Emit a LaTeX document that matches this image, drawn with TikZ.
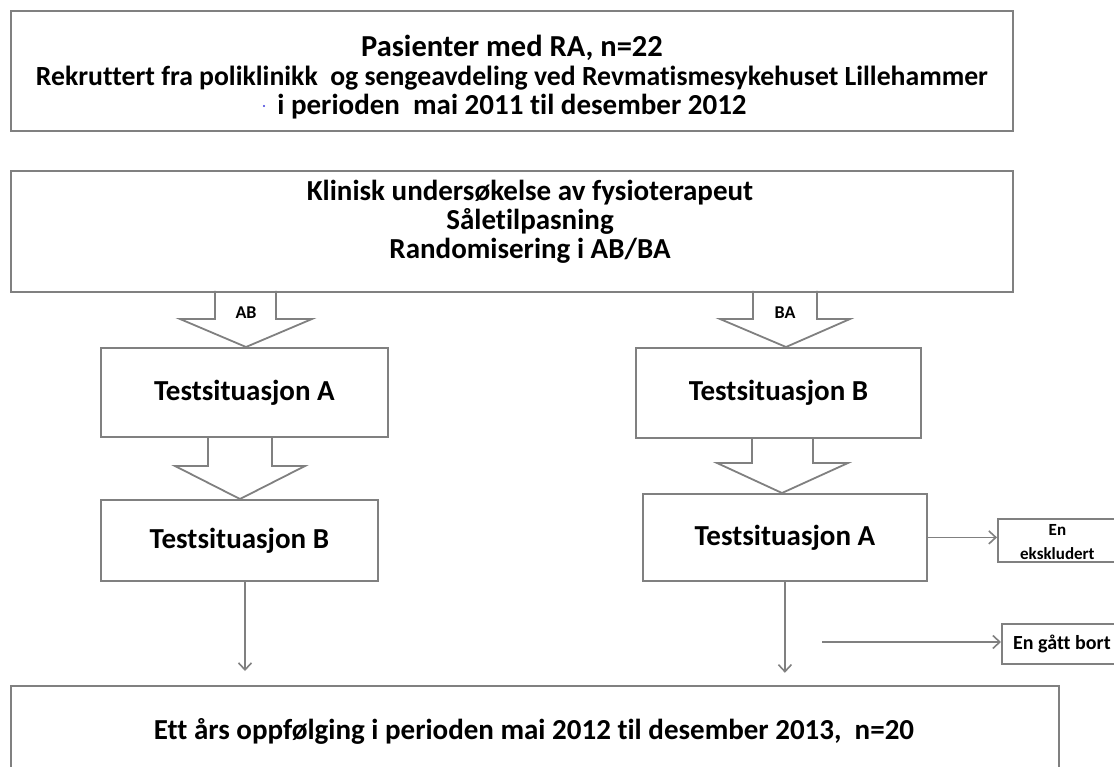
\documentclass[tikz,border=0pt]{standalone}
\usepackage{fontspec}
\setmainfont{Carlito}[Ligatures=NoCommon]
\usetikzlibrary{arrows.meta,calc}
\definecolor{linegray}{RGB}{128,128,128}
\definecolor{dotblue}{RGB}{60,60,220}
\begin{document}
\begin{tikzpicture}[x=1pt,y=-1pt,
  box/.style={draw=linegray, line width=1.8pt, inner sep=0pt, anchor=north west, align=center},
  bigtxt/.style={font=\bfseries\fontsize{29}{29}\selectfont, align=center, inner sep=0pt},
  smalltxt/.style={font=\bfseries\fontsize{17}{24}\selectfont, align=center, inner sep=0pt},
  labtxt/.style={font=\bfseries\fontsize{18}{20}\selectfont, inner sep=0pt},
  blockarrow/.style={draw=linegray, line width=1.8pt, line join=miter},
  thinarrow/.style={draw=linegray, line width=1.8pt, -{Straight Barb[length=7pt,width=13pt,line width=1.6pt]}}
]
\useasboundingbox (0,0) rectangle (1114,767);

% top box
\node[box, minimum width=1002pt, minimum height=120pt] (top) at (10,10) {};
\node[bigtxt] (toptxt) at (512,77) {{\fontsize{30.5}{29}\selectfont Pasienter med RA, n=22}\\{\fontsize{27.7}{29}\selectfont Rekruttert fra poliklinikk\ \ og sengeavdeling ved Revmatismesykehuset Lillehammer}\\i perioden\ \ mai 2011 til desember 2012};
\fill[dotblue] (264,106) circle (1.2pt);

% second box
\node[box, minimum width=1002pt, minimum height=121pt] (klin) at (10,170) {};
\node[bigtxt] (klintxt) at (530,222) {Klinisk undersøkelse av fysioterapeut\\Såletilpasning\\Randomisering i AB/BA};

% test boxes
\node[box, minimum width=287pt, minimum height=89pt] (tA) at (100,347) {};
\node[bigtxt] at (tA.center) {Testsituasjon A};
\node[box, minimum width=285pt, minimum height=90pt] (tB) at (635,347) {};
\node[bigtxt] at (tB.center) {Testsituasjon B};
\node[box, minimum width=277pt, minimum height=81pt] (lB) at (100,499) {};
\node[bigtxt] at (lB.center) {Testsituasjon B};
\node[box, minimum width=284pt, minimum height=87pt] (rA) at (642,493) {};
\node[bigtxt] at (rA.center) {Testsituasjon A};

% side boxes
\node[box, minimum width=123pt, minimum height=43pt] (eks) at (997,518) {};
\node[smalltxt] at ($(eks.center)+(-2,2)$) {En\\ekskludert};
\node[box, minimum width=120pt, minimum height=40pt] (gatt) at (1001,623) {};
\node[smalltxt, font=\bfseries\fontsize{20}{24}\selectfont] at (gatt.center) {En gått bort};

% bottom box
\node[box, minimum width=1048pt, minimum height=92pt] (bot) at (10,685) {};
\node[bigtxt] (bottxt) at (534,731) {Ett års oppfølging i perioden mai 2012 til desember 2013,\ \ n=20};

% block arrows
\draw[blockarrow] (215,291) -- (215,319) -- (180,319) -- (246,347) -- (312,319) -- (276,319) -- (276,291);
\node[labtxt] (ab) at (246,313) {AB};
\draw[blockarrow] (753,291) -- (753,319) -- (720,319) -- (786,347) -- (850,319) -- (817,319) -- (817,291);
\node[labtxt] (ba) at (785,313) {BA};
\draw[blockarrow] (208,436) -- (208,466) -- (175,466) -- (240,499) -- (305,466) -- (272,466) -- (272,436);
\draw[blockarrow] (752,437) -- (752,463) -- (717,463) -- (782,493) -- (848,463) -- (813,463) -- (813,437);

% thin arrows
\coordinate (lBout) at (245,580);
\coordinate (botL) at (245,671);
\draw[thinarrow] (lBout) -- (botL);
\coordinate (botR) at ($(rA.south)+(0,91)$);
\draw[thinarrow] (rA.south) -- (botR);
\draw[thinarrow] (rA.east) -- (rA.east -| eks.west);
\coordinate (gstart) at (822,642);
\draw[thinarrow] (gstart) -- (gstart -| gatt.west);
\end{tikzpicture}
\end{document}
